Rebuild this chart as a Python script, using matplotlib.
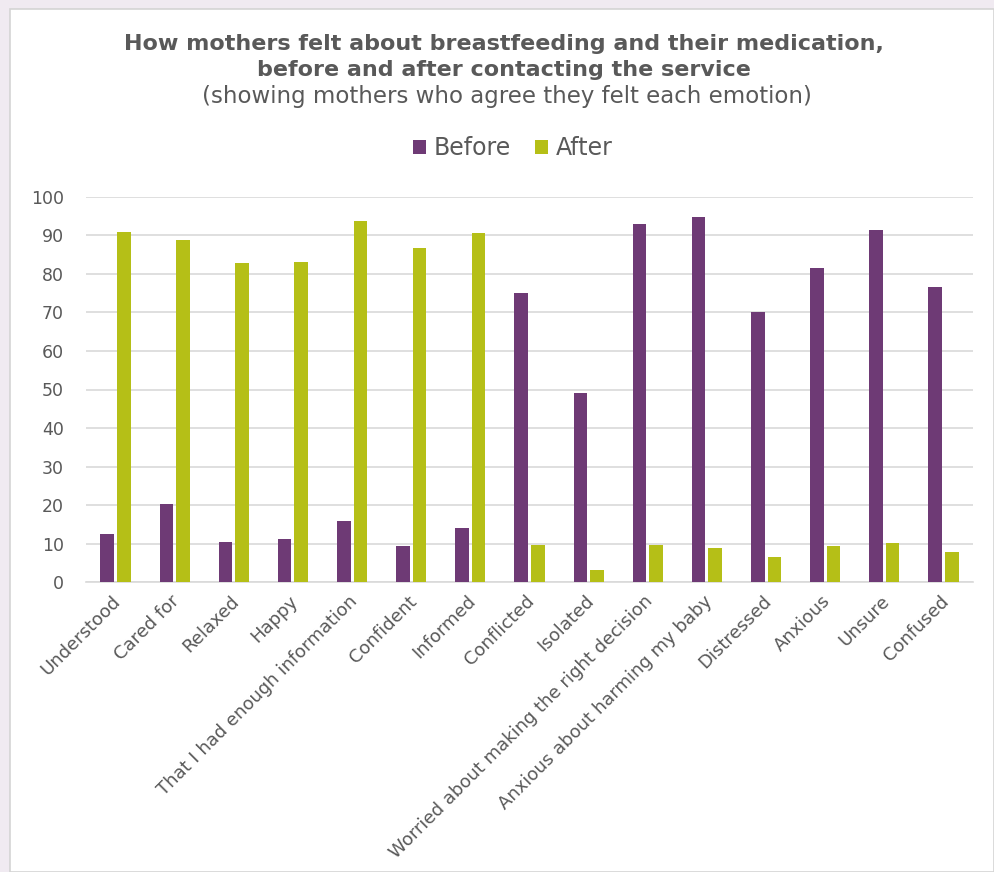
import numpy as np
import matplotlib
matplotlib.use("Agg")
import matplotlib.pyplot as plt
from matplotlib.patches import Rectangle
from matplotlib.transforms import ScaledTranslation

# Data (% of mothers agreeing)
categories = [
    "Understood", "Cared for", "Relaxed", "Happy",
    "That I had enough information", "Confident", "Informed",
    "Conflicted", "Isolated", "Worried about making the right decision",
    "Anxious about harming my baby", "Distressed", "Anxious", "Unsure",
    "Confused",
]
before = [12.4, 20.2, 10.5, 11.3, 15.9, 9.4, 14.0,
          74.9, 49.2, 92.8, 94.7, 70.0, 81.6, 91.3, 76.6]
after = [90.8, 88.9, 82.8, 83.1, 93.6, 86.6, 90.5,
         9.7, 3.2, 9.7, 9.0, 6.6, 9.4, 10.2, 7.9]
yticks = list(range(0, 101, 10))

purple = "#6E3A75"
green = "#B5BF17"
grey_text = "#595959"
plt.rcParams["font.family"] = ["DejaVu Sans"]

W, H = 994, 872
fig = plt.figure(figsize=(W / 100, H / 100), dpi=100)
fig.patch.set_facecolor("#F0EAF1")

# white chart panel
panel = Rectangle((10 / W, 0), 1 - 10 / W, 1 - 9 / H, transform=fig.transFigure,
                  facecolor="white", edgecolor="#D4D4D4", linewidth=1.2, zorder=-5)
fig.patches.append(panel)

ax = fig.add_axes([86 / W, 1 - 582.3 / H, 887 / W, (582.3 - 196.7) / H])
ax.set_zorder(2)
ax.set_facecolor("white")

x = np.arange(len(categories))
bw = 0.23
gap = 0.025
ax.bar(x - bw / 2 - gap, before, width=bw, color=purple, label="Before", zorder=3)
ax.bar(x + bw / 2 + gap, after, width=bw, color=green, label="After", zorder=3)

ax.set_xlim(-0.5, len(categories) - 0.5)
ax.set_ylim(0, 100)
ax.set_yticks(yticks)
ax.yaxis.grid(True, color="#D9D9D9", linewidth=1.2, zorder=0)
ax.set_axisbelow(True)
for s in ["top", "right", "left"]:
    ax.spines[s].set_visible(False)
ax.spines["bottom"].set_color("#D9D9D9")
ax.spines["bottom"].set_linewidth(1.2)
ax.tick_params(axis="both", length=0, colors=grey_text, labelsize=12.5)
ax.tick_params(axis="y", pad=16)
ax.tick_params(axis="x", pad=7)
ax.set_xticks(x)
ax.set_xticklabels(categories, rotation=45, ha="right", rotation_mode="anchor",
                   fontsize=13, color=grey_text)
shift = ScaledTranslation(-4 / 100, 0, fig.dpi_scale_trans)
for lbl in ax.get_xticklabels():
    lbl.set_transform(lbl.get_transform() + shift)

fig.text(0.507, 1 - 44 / H, "How mothers felt about breastfeeding and their medication,",
         ha="center", va="center", fontsize=16, fontweight="bold", color=grey_text)
fig.text(0.507, 1 - 70 / H, "before and after contacting the service",
         ha="center", va="center", fontsize=16, fontweight="bold", color=grey_text)
fig.text(0.51, 1 - 97 / H, "(showing mothers who agree they felt each emotion)",
         ha="center", va="center", fontsize=16.5, color=grey_text)

fig.legend(loc="center", bbox_to_anchor=(0.516, 1 - 148 / H), ncol=2, frameon=False,
           fontsize=17, handlelength=0.55, handleheight=0.55, handletextpad=0.35,
           columnspacing=1.0, labelcolor=grey_text)

fig.savefig("out.png", dpi=100, facecolor=fig.get_facecolor())
